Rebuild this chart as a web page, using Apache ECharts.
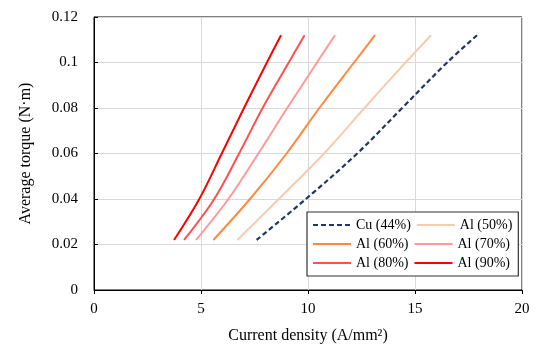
<!DOCTYPE html>
<html>
<head>
    <meta charset="UTF-8">
    <title>Average torque vs current density</title>
    <script src="https://cdn.jsdelivr.net/npm/echarts@6/dist/echarts.min.js"></script>
    <style>
        html, body { margin: 0; padding: 0; background: #fff; }
    </style>
</head>
<body>
<div id="chart" style="width: 539px;height:349px;"></div>

<script type="text/javascript">
    // torque levels (N·m) at which the curves were read
    var torque = [0.022, 0.04, 0.06, 0.08, 0.1, 0.112];

    // current density (A/mm2) of each winding at those torque levels
    var cu44 = [7.6, 9.9, 12.3, 14.4, 16.5, 17.9];
    var al50 = [6.7, 8.64, 10.75, 12.64, 14.56, 15.75];
    var al60 = [5.58, 7.29, 9.0, 10.53, 12.15, 13.13];
    var al70 = [4.77, 6.28, 7.68, 9.03, 10.42, 11.26];
    var al80 = [4.21, 5.62, 6.78, 7.88, 9.1, 9.84];
    var al90 = [3.74, 4.92, 5.97, 7.01, 8.08, 8.74];

    var seriesNames = ['Cu (44%)', 'Al (50%)', 'Al (60%)', 'Al (70%)', 'Al (80%)', 'Al (90%)'];
    var seriesData = [cu44, al50, al60, al70, al80, al90];
    var colors = ['#1F3864', '#F8CBAD', '#FF8A3D', '#FF9999', '#FF5050', '#FF0000'];

    function pairs(xs) {
        return xs.map(function (x, i) { return [x, torque[i]]; });
    }

    var font = 'Liberation Serif, Times New Roman, serif';
    var chart = echarts.init(document.getElementById('chart'));

    var series = seriesNames.map(function (name, i) {
        return {
            name: name,
            type: 'line',
            data: pairs(seriesData[i]),
            symbol: 'none',
            smooth: 0.35,
            z: 3,
            lineStyle: {
                color: colors[i],
                width: i === 0 ? 2.2 : 2,
                type: i === 0 ? [5, 3] : 'solid'
            },
            itemStyle: {color: colors[i]}
        };
    });

    var option = {
        animation: false,
        textStyle: {fontFamily: font},
        grid: {
            left: 94, right: 17, top: 17, bottom: 58,
            show: true,
            borderColor: '#000',
            borderWidth: 1
        },
        legend: {
            data: seriesNames,
            left: 307,
            top: 212,
            width: 212,
            itemWidth: 38,
            itemHeight: 10,
            itemGap: 5,
            padding: [6, 6, 6, 5],
            borderColor: '#333',
            borderWidth: 1.2,
            backgroundColor: '#fff',
            itemStyle: {opacity: 0},
            textStyle: {fontFamily: font, fontSize: 14, color: '#000', width: 60, padding: [0, 0, 0, 0]}
        },
        xAxis: {
            type: 'value',
            min: 0, max: 20, interval: 5,
            name: 'Current density (A/mm²)',
            nameLocation: 'middle',
            nameGap: 38,
            nameTextStyle: {fontFamily: font, fontSize: 16, color: '#000'},
            axisLine: {lineStyle: {color: '#000'}},
            axisTick: {inside: false, length: 4, lineStyle: {color: '#000'}},
            axisLabel: {fontFamily: font, fontSize: 15, color: '#000', margin: 12},
            splitLine: {lineStyle: {color: '#d9d9d9'}}
        },
        yAxis: {
            type: 'value',
            min: 0, max: 0.12, interval: 0.02,
            name: 'Average torque (N·m)',
            nameLocation: 'middle',
            nameGap: 60,
            nameTextStyle: {fontFamily: font, fontSize: 16, color: '#000'},
            axisLine: {show: true, lineStyle: {color: '#000'}},
            axisTick: {show: true, inside: true, length: 4, lineStyle: {color: '#000'}},
            axisLabel: {fontFamily: font, fontSize: 15, color: '#000', margin: 16},
            splitLine: {lineStyle: {color: '#d9d9d9'}}
        },
        series: series
    };

    chart.setOption(option);
</script>
</body>
</html>
